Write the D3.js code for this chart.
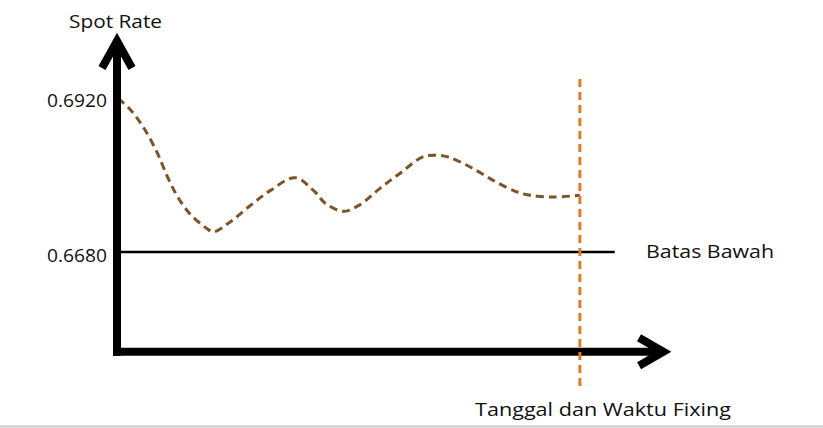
<!DOCTYPE html>
<html><head><meta charset="utf-8">
<script src="https://cdn.jsdelivr.net/npm/d3@7"></script>
<style>
html,body{margin:0;padding:0;background:#fff;}
svg{display:block;}
text{font-family:"Open Sans",sans-serif;fill:#111;}
</style></head>
<body>
<script>
// Data (time index t in arbitrary units, spot rate values)
const timeIdx = [0.2, 2.35, 4.7, 7.2, 9.2, 11.0, 13.2, 16.3, 17.4, 20.4, 24.1, 27.7, 32.2, 35.8, 37.6, 40.9, 43.9, 47.6, 51.2, 55.2, 57.5, 59.9, 63.8, 68.0, 72.3, 74.7, 78.8, 83.7];
const spotRate = [0.6918, 0.6901, 0.6874, 0.6835, 0.6795, 0.6765, 0.6739, 0.6716, 0.6711, 0.6726, 0.6752, 0.6775, 0.6795, 0.6773, 0.6756, 0.6743, 0.6753, 0.6779, 0.6802, 0.6827, 0.6830, 0.6827, 0.6812, 0.6791, 0.6773, 0.6768, 0.6765, 0.6768];
const tickValues = [0.6680, 0.6920];
const lowerBound = 0.6680;
const fixingTime = 83.7;
const yTitle = "Spot Rate";
const xTitle = "Tanggal dan Waktu Fixing";
const boundLabel = "Batas Bawah";

const W = 823, H = 428;
const svg = d3.select("body").append("svg").attr("width", W).attr("height", H);

const x = d3.scaleLinear().domain([0, 100]).range([117, 670]);
const y = d3.scaleLinear().domain([0.6680, 0.6920]).range([252, 97]);

// bottom grey separator
svg.append("line").attr("x1",0).attr("x2",W).attr("y1",426.5).attr("y2",426.5)
  .attr("stroke","#c8c8c8").attr("stroke-width",2);

// Lower bound line
svg.append("line")
  .attr("x1", x(0)).attr("x2", x(90))
  .attr("y1", y(lowerBound)).attr("y2", y(lowerBound))
  .attr("stroke", "#000").attr("stroke-width", 2.5);

// Curve
const line = d3.line().x((d,i)=>x(timeIdx[i])).y(d=>y(d)).curve(d3.curveCatmullRom.alpha(0.5));
svg.append("path").datum(spotRate).attr("d", line)
  .attr("fill","none").attr("stroke","#7f5328").attr("stroke-width",3)
  .attr("stroke-dasharray","8,5");

// Axes (thick)
const yBottom = y(0.65255), yTop = y(0.7013);
svg.append("line").attr("x1", x(0)).attr("x2", x(0)).attr("y1", yBottom+4).attr("y2", yTop+3)
  .attr("stroke","#000").attr("stroke-width",8);
svg.append("line").attr("x1", x(0)-4).attr("x2", x(98.5)).attr("y1", yBottom).attr("y2", yBottom)
  .attr("stroke","#000").attr("stroke-width",8);
// arrowheads
svg.append("path")
  .attr("d", `M${x(0)-15},${yTop+31} L${x(0)},${yTop+4} L${x(0)+15},${yTop+31}`)
  .attr("fill","none").attr("stroke","#000").attr("stroke-width",8).attr("stroke-linejoin","miter").attr("stroke-miterlimit",10);
svg.append("path")
  .attr("d", `M${x(94.4)},${yBottom-14} L${x(98.8)},${yBottom} L${x(94.4)},${yBottom+14}`)
  .attr("fill","none").attr("stroke","#000").attr("stroke-width",8).attr("stroke-linejoin","miter").attr("stroke-miterlimit",10);

// Fixing vertical dashed line
svg.append("line").attr("x1", x(fixingTime)).attr("x2", x(fixingTime))
  .attr("y1", 79).attr("y2", 390)
  .attr("stroke","#e07b2a").attr("stroke-width",3).attr("stroke-dasharray","8,5");

// Y tick labels via d3 axis
const yAxis = d3.axisLeft(y).tickValues(tickValues).tickFormat(d3.format(".4f")).tickSize(0).tickPadding(7);
const gy = svg.append("g").attr("transform", `translate(${x(0)-3},0)`).call(yAxis);
gy.select(".domain").remove();
gy.selectAll("text").attr("font-size", 18).attr("font-family", '"Open Sans",sans-serif')
  .attr("fill","#111").attr("dy","0.5em").attr("textLength", 60).attr("lengthAdjust","spacingAndGlyphs");

// Titles
svg.append("text").attr("x", 69).attr("y", 28).attr("font-size", 18)
  .attr("textLength", 93).attr("lengthAdjust","spacingAndGlyphs").text(yTitle);
svg.append("text").attr("x", 646).attr("y", 258).attr("font-size", 18)
  .attr("textLength", 128).attr("lengthAdjust","spacingAndGlyphs").text(boundLabel);
svg.append("text").attr("x", 475).attr("y", 416).attr("font-size", 18)
  .attr("textLength", 256).attr("lengthAdjust","spacingAndGlyphs").text(xTitle);
</script>
</body></html>
